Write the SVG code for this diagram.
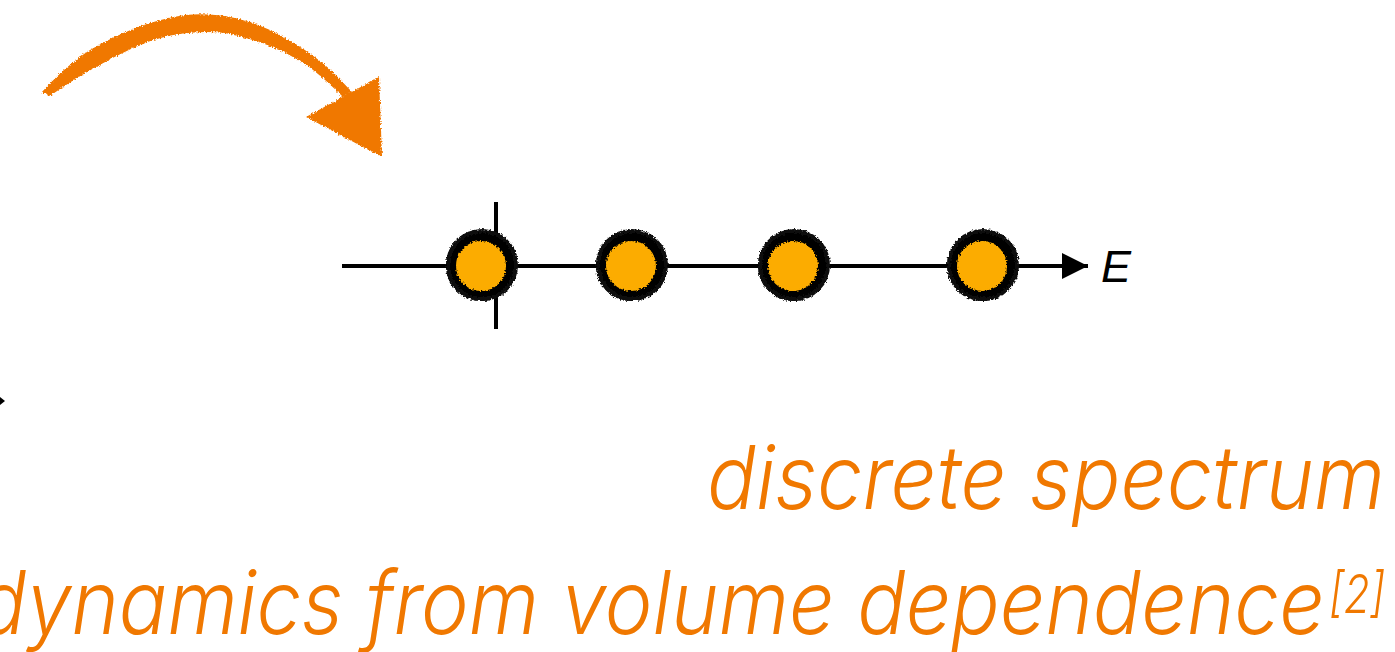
<svg xmlns="http://www.w3.org/2000/svg" width="1395" height="652" viewBox="0 0 1395 652">
<defs>
<style>
.lbl{font-family:Inter,"Liberation Sans",sans-serif;font-style:italic;font-weight:300;fill:#F07800}
.axis{stroke:#000;stroke-width:4;fill:none}
.ring{fill:#FCAC00;stroke:#000;stroke-width:10}
.ring2{fill:none;stroke:#111;stroke-width:4}
.brush{fill:#F07800}
</style>
<filter id="rough" x="-20%" y="-20%" width="140%" height="140%">
<feTurbulence type="fractalNoise" baseFrequency="0.6" numOctaves="2" seed="3" result="n"/>
<feDisplacementMap in="SourceGraphic" in2="n" scale="4" xChannelSelector="R" yChannelSelector="G"/>
</filter>
<marker id="ah" viewBox="0 0 10 10" refX="10" refY="5" markerWidth="6.5" markerHeight="6.5" markerUnits="strokeWidth" orient="auto">
<path d="M0,0 L10,5 L0,10 Z" fill="#000"/>
</marker>
</defs>
<g id="curved-arrow" filter="url(#rough)">
<path class="brush" d="M42 92 C60 72 75 60 90 50 C120 33 150 20 185 15 C215 12 245 18 270 30 C295 42 318 58 333 72 L352 92 L343 97 C330 84 315 70 300 61 C280 49 255 39 225 33 C195 30 165 34 135 47 C105 61 75 78 50 96 Z"/>
<path class="brush" d="M306 117 L379 77 L382 157 Z"/>
</g>
<g id="connectors">
<line class="axis" x1="342" y1="266" x2="1088" y2="266" marker-end="url(#ah)"/>
<line class="axis" x1="496" y1="202" x2="496" y2="329"/>
<path d="M0 397 L5 401 L0 405 Z" fill="#000"/>
</g>
<g id="level-1" filter="url(#rough)">
<circle class="ring" cx="481" cy="266" r="30"/>
<circle class="ring2" cx="482" cy="265" r="34"/>
</g>
<g id="level-2" filter="url(#rough)">
<circle class="ring" cx="631" cy="266" r="30"/>
<circle class="ring2" cx="632" cy="265" r="34"/>
</g>
<g id="level-3" filter="url(#rough)">
<circle class="ring" cx="793" cy="266" r="30"/>
<circle class="ring2" cx="794" cy="265" r="34"/>
</g>
<g id="level-4" filter="url(#rough)">
<circle class="ring" cx="982" cy="266" r="30"/>
<circle class="ring2" cx="983" cy="265" r="34"/>
</g>
<g id="axis-label">
<text x="1101" y="282" font-family="'Liberation Sans',sans-serif" font-style="italic" font-size="45" fill="#000">E</text>
</g>
<g id="caption-1">
<text class="lbl" x="707" y="509" font-size="88" textLength="678" lengthAdjust="spacingAndGlyphs">discrete spectrum</text>
</g>
<g id="caption-2">
<text class="lbl" x="-22" y="634" font-size="88" textLength="1347" lengthAdjust="spacingAndGlyphs">dynamics from volume dependence</text>
<text class="lbl" x="1329" y="613" font-size="54" textLength="56" lengthAdjust="spacingAndGlyphs">[2]</text>
</g>
</svg>
